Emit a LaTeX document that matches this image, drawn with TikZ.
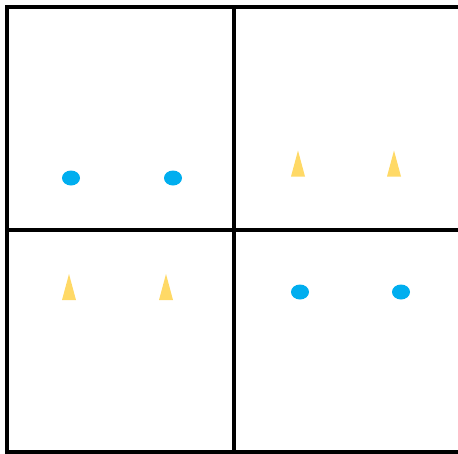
\documentclass[tikz,border=0pt]{standalone}
\usepackage{tikz}
\usetikzlibrary{calc}
\definecolor{dotblue}{HTML}{00AEEF}
\definecolor{coneyellow}{HTML}{FFD966}

\begin{document}
\begin{tikzpicture}[x=1pt,y=-1pt,gridline/.style={line width=3.5pt}]
  \useasboundingbox (0,0) rectangle (458,453);
  \clip (0,0) rectangle (458,453);
  % Frame and the two dividing lines
  \draw[gridline] (7,7) rectangle (461,452);
  \draw[gridline] (234,7) -- (234,452);
  \draw[gridline] (7,230) -- (461,230);
  \foreach \x/\y in {71/178,173/178,300/292,401/292}{\fill[dotblue] (\x,\y) ellipse (9 and 7.5);}
  \foreach \x/\y in {298/163.5,394/163.5,69/287,166/287}{\fill[coneyellow] ($(\x,\y)+(-7,13)$) -- ($(\x,\y)+(0,-13)$) -- ($(\x,\y)+(7,13)$) -- cycle;}
\end{tikzpicture}
\end{document}
